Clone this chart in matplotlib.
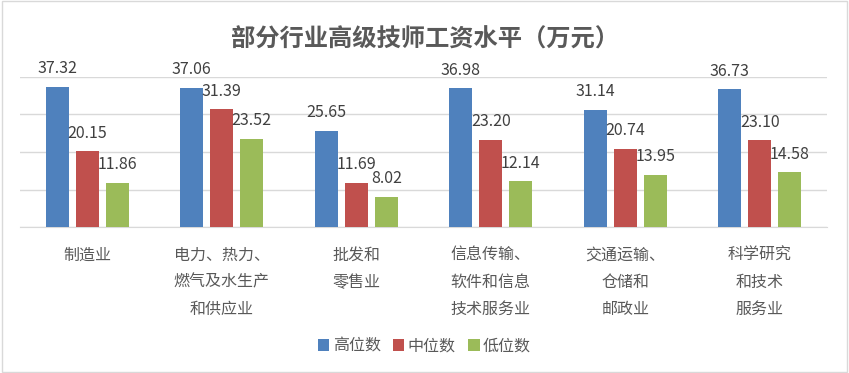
import matplotlib.pyplot as plt
import numpy as np

plt.rcParams['font.family'] = ['Noto Sans CJK SC', 'DejaVu Sans']

# 行业类别
categories = ["制造业", "电力、热力、\n燃气及水生产\n和供应业", "批发和\n零售业",
              "信息传输、\n软件和信息\n技术服务业", "交通运输、\n仓储和\n邮政业",
              "科学研究\n和技术\n服务业"]
high = [37.32, 37.06, 25.65, 36.98, 31.14, 36.73]   # 高位数
mid = [20.15, 31.39, 11.69, 23.20, 20.74, 23.10]    # 中位数
low = [11.86, 23.52, 8.02, 12.14, 13.95, 14.58]     # 低位数
series_names = ["高位数", "中位数", "低位数"]
colors = ["#4F81BD", "#C0504D", "#9BBB59"]
text_color = "#595959"

fig = plt.figure(figsize=(8.49, 3.73), dpi=100)
ax = fig.add_axes([0.0236, 0.3914, 0.9505, 0.4022])

x = np.arange(len(categories))
w = 0.171
step = 0.223
bars = []
for i, (vals, name, c) in enumerate(zip([high, mid, low], series_names, colors)):
    b = ax.bar(x + (i - 1) * step, vals, width=w, color=c, label=name, zorder=3)
    bars.append(b)
    for xi, v in zip(x + (i - 1) * step, vals):
        ax.annotate(f"{v:.2f}", (xi, v), xytext=(0, 7), textcoords="offset points",
                    ha="center", va="bottom", fontsize=11.5, color="#404040", zorder=4)

ax.set_xlim(-0.5, len(categories) - 0.5)
ax.set_ylim(0, 40)
ax.set_yticks([0, 10, 20, 30, 40])
ax.set_yticklabels([])
ax.yaxis.grid(True, color="#D9D9D9", linewidth=1, zorder=0)
ax.tick_params(axis="y", length=0)
ax.set_xticks(x)
ax.set_xticklabels(categories, fontsize=11.5, color=text_color, linespacing=1.8, va="top")
ax.tick_params(axis="x", length=0, pad=14)
for s in ["top", "right", "left"]:
    ax.spines[s].set_visible(False)
ax.spines["bottom"].set_color("#D9D9D9")

fig.text(0.5, 0.893, "部分行业高级技师工资水平（万元）", ha="center", va="center",
         fontsize=17.5, fontweight="bold", color=text_color)

leg = fig.legend(handles=bars, labels=series_names, loc="center", bbox_to_anchor=(0.5, 0.072),
                 ncol=3, frameon=False, fontsize=11.5, handlelength=0.7, handleheight=0.7,
                 handletextpad=0.2, columnspacing=0.8)
for t in leg.get_texts():
    t.set_color(text_color)

fig.patches.append(plt.Rectangle((0.002, 0.003), 0.996, 0.994, transform=fig.transFigure,
                                 fill=False, edgecolor="#D9D9D9", linewidth=1))

fig.savefig("out.png", dpi=100)
